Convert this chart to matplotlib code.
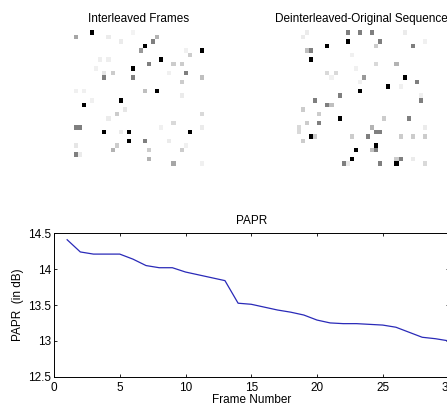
import numpy as np
import matplotlib
matplotlib.use('Agg')
import matplotlib.pyplot as plt

plt.rcParams['font.family'] = ['Liberation Sans', 'DejaVu Sans']

# PAPR per frame
frames = list(range(1, 31))
papr = [14.41, 14.24, 14.21, 14.21, 14.21, 14.14, 14.05, 14.02, 14.02, 13.96,
        13.92, 13.88, 13.84, 13.525, 13.51, 13.47, 13.43, 13.40, 13.36, 13.29,
        13.25, 13.24, 13.24, 13.23, 13.22, 13.19, 13.12, 13.05, 13.03, 13.00]

n_rows, n_cols = 30, 32

# (row, col, level)  level: 1 = black, 0 = white
interleaved = [
    (0, 4, 1.0), (1, 0, 0.35), (1, 8, 0.08), (2, 11, 0.08), (0, 14, 0.05),
    (1, 20, 0.3), (2, 19, 0.5), (3, 17, 1.0), (4, 16, 0.4), (5, 28, 0.2),
    (4, 31, 1.0), (4, 27, 0.06), (6, 6, 0.07), (6, 8, 0.07), (7, 18, 0.5),
    (6, 21, 1.0), (7, 24, 0.2), (7, 26, 0.2), (8, 14, 1.0), (9, 27, 0.5),
    (8, 5, 0.06), (9, 7, 0.1), (9, 9, 0.2), (10, 7, 0.5), (10, 14, 0.5),
    (11, 26, 0.2), (10, 31, 0.25), (9, 23, 0.06), (13, 17, 0.25), (13, 20, 1.0),
    (13, 0, 0.06), (13, 2, 0.06), (14, 26, 0.08), (15, 11, 1.0), (16, 2, 1.0),
    (15, 4, 0.06), (17, 12, 0.1), (18, 31, 0.15), (18, 10, 0.2), (19, 8, 0.08),
    (20, 24, 0.15), (21, 0, 0.5), (21, 1, 0.5), (22, 7, 1.0), (22, 13, 1.0),
    (22, 11, 0.08), (22, 28, 1.0), (21, 21, 0.06), (21, 31, 0.08), (24, 13, 1.0),
    (24, 17, 0.5), (24, 23, 0.08), (25, 0, 0.1), (25, 10, 0.2), (26, 9, 0.3),
    (26, 18, 0.2), (26, 26, 0.2), (27, 0, 0.5), (27, 1, 0.08), (28, 18, 0.3),
    (29, 24, 0.35), (29, 31, 0.06), (25, 27, 0.06),
]

deinterleaved = [
    (0, 2, 0.08), (1, 1, 0.08), (0, 12, 0.5), (0, 15, 0.5), (0, 18, 0.5),
    (0, 26, 0.08), (2, 12, 1.0), (3, 7, 1.0), (2, 20, 0.5), (3, 19, 0.2),
    (3, 28, 0.5), (2, 31, 0.06), (4, 2, 0.25), (4, 3, 0.5), (6, 3, 1.0),
    (5, 13, 0.06), (7, 19, 0.15), (7, 24, 0.3), (8, 14, 0.06), (9, 7, 0.15),
    (9, 9, 0.15), (10, 8, 0.06), (10, 16, 0.4), (11, 15, 0.06), (10, 26, 1.0),
    (11, 29, 0.5), (12, 22, 1.0), (12, 25, 0.06), (13, 15, 1.0), (14, 30, 0.06),
    (14, 10, 0.5), (15, 4, 0.5), (15, 30, 0.5), (16, 7, 0.5), (16, 8, 0.25),
    (17, 1, 0.2), (18, 5, 0.2), (19, 10, 1.0), (19, 21, 0.2), (19, 27, 0.5),
    (20, 2, 0.2), (20, 5, 0.5), (21, 0, 0.15), (22, 0, 0.15), (21, 18, 0.3),
    (22, 19, 0.5), (22, 20, 0.5), (23, 3, 1.0), (23, 4, 0.2), (23, 13, 0.2),
    (23, 17, 0.5), (23, 25, 0.2), (23, 28, 0.2), (23, 31, 0.2), (24, 1, 0.2),
    (21, 31, 0.08), (25, 19, 1.0), (26, 18, 0.25), (26, 19, 0.5), (26, 14, 1.0),
    (28, 28, 0.08), (28, 13, 1.0), (28, 25, 0.5), (28, 24, 0.2), (29, 11, 0.5),
    (29, 12, 0.08), (29, 20, 0.5), (29, 24, 1.0), (29, 31, 0.15),
]


def to_matrix(cells):
    m = np.zeros((n_rows, n_cols))
    for r, c, v in cells:
        m[r, c] = v
    return m


fig = plt.figure(figsize=(4.47, 4.11), dpi=100)
W, H = 447., 411.

def frac(x0, y0, x1, y1):
    return [x0 / W, 1 - y1 / H, (x1 - x0) / W, (y1 - y0) / H]

fs = 8.5

ax1 = fig.add_axes(frac(74.2, 30.1, 203.8, 166))
ax1.imshow(to_matrix(interleaved), cmap='gray_r', vmin=0, vmax=1,
           interpolation='nearest', aspect='auto')
ax1.axis('off')
ax1.set_title('Interleaved Frames', fontsize=fs, pad=6)

ax2 = fig.add_axes(frac(296.8, 30.1, 426.4, 166))
ax2.imshow(to_matrix(deinterleaved), cmap='gray_r', vmin=0, vmax=1,
           interpolation='nearest', aspect='auto')
ax2.axis('off')
ax2.set_title('Deinterleaved-Original Sequence', fontsize=fs, pad=6)

ax3 = fig.add_axes(frac(54, 233.3, 448.5, 376.7))
ax3.plot(frames, papr, color='#2a2ab8', lw=0.9)
ax3.set_xlim(0, 30)
ax3.set_ylim(12.5, 14.5)
ax3.set_xticks([0, 5, 10, 15, 20, 25, 30])
ax3.set_yticks([12.5, 13, 13.5, 14, 14.5])
ax3.set_yticklabels(['12.5', '13', '13.5', '14', '14.5'])
ax3.tick_params(direction='in', length=2.5, width=0.6, top=True, right=True,
                labelsize=fs, pad=2)
ax3.tick_params(axis='x', pad=4)
for s in ax3.spines.values():
    s.set_linewidth(0.7)
ax3.set_title('PAPR', fontsize=fs, pad=7)
ax3.set_xlabel('Frame Number', fontsize=fs, labelpad=0)
ax3.set_ylabel('PAPR  (in dB)', fontsize=fs, labelpad=3)

fig.savefig('out.png', dpi=100, facecolor='white')
